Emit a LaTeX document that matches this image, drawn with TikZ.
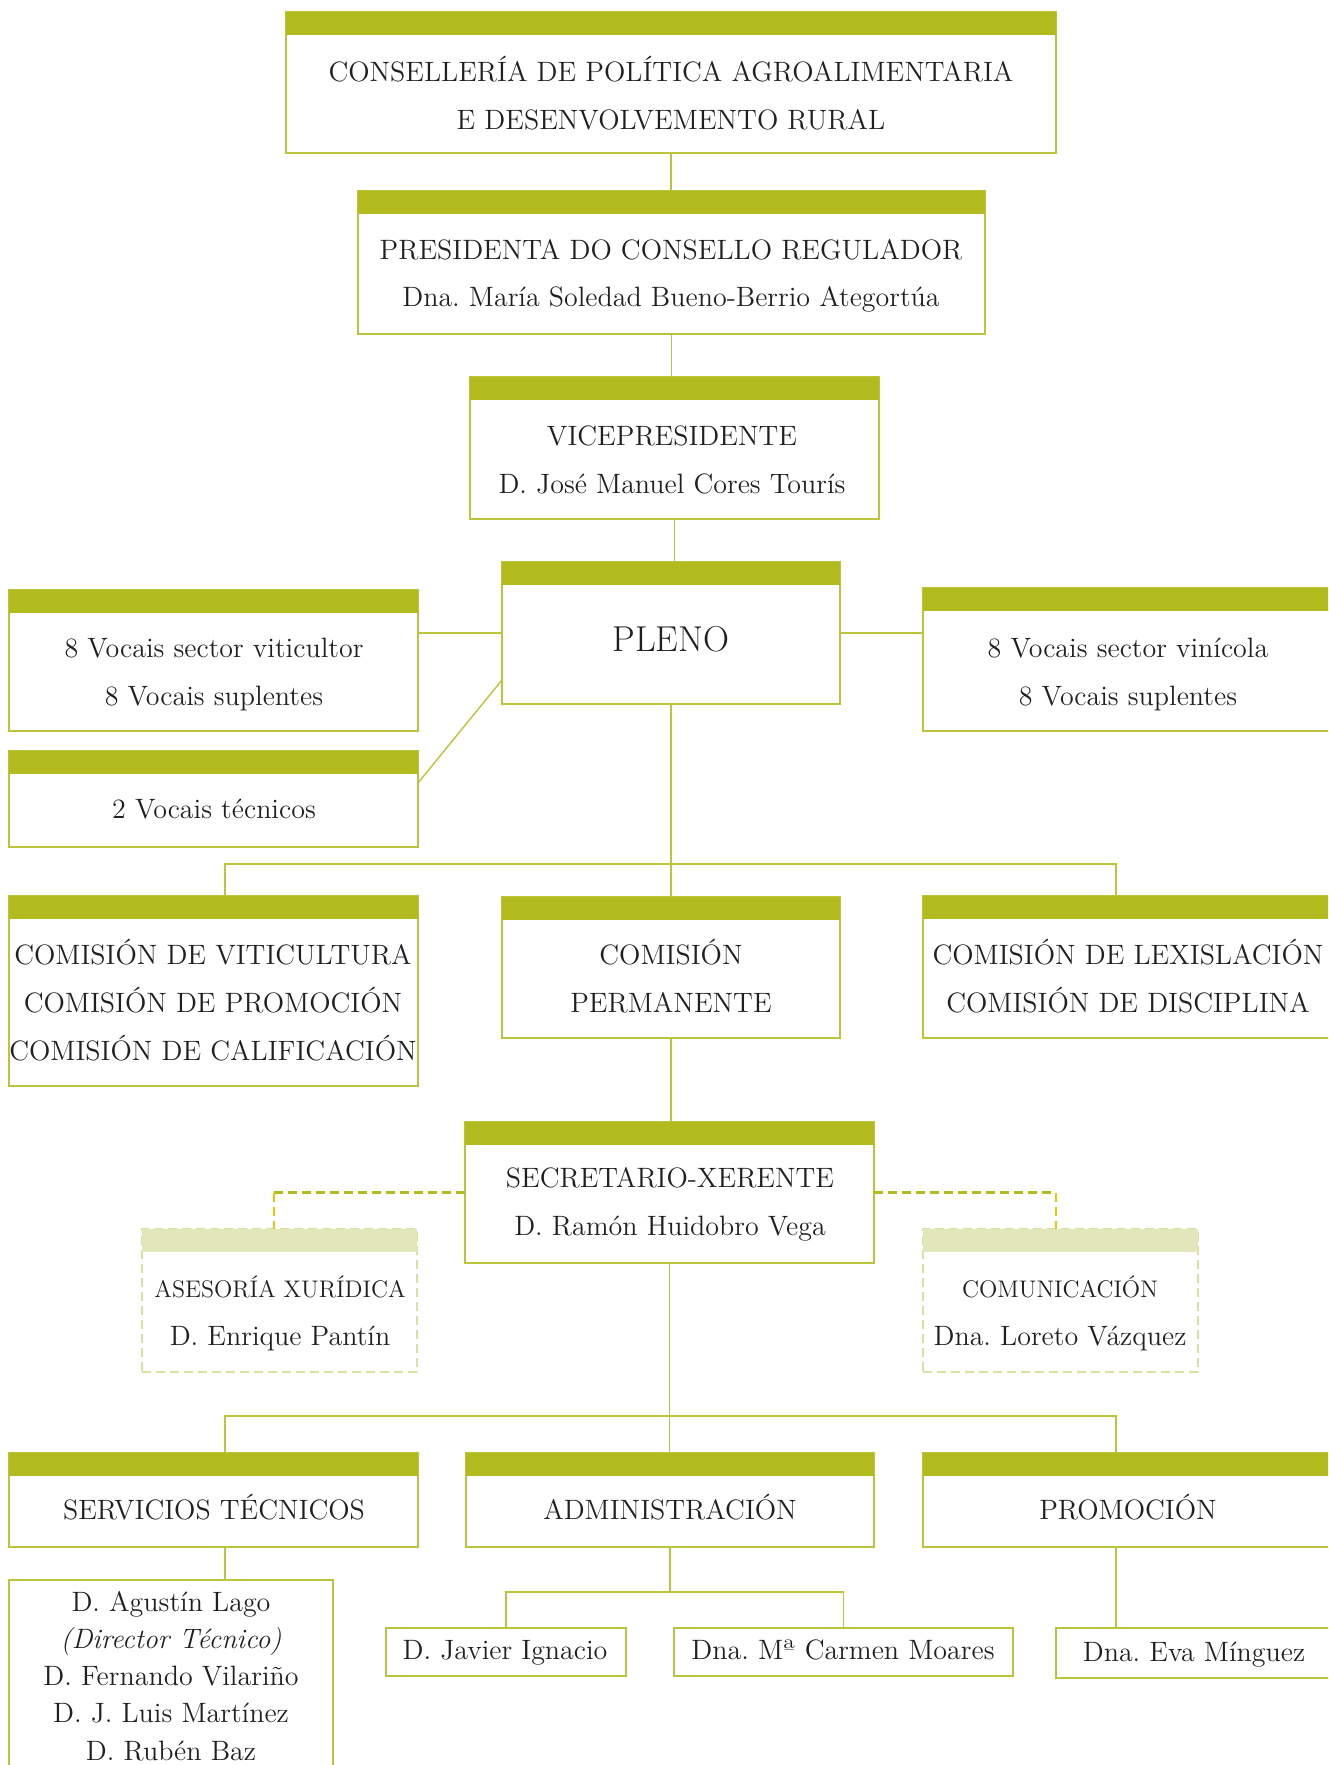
\documentclass[tikz,border=0pt]{standalone}
\usepackage{fontspec}
\usetikzlibrary{fit}
\frenchspacing
\definecolor{barc}{HTML}{B2BB1E}
\definecolor{linec}{HTML}{BCC43C}
\definecolor{lbarc}{HTML}{E1E6BB}
\definecolor{ldashc}{HTML}{DCE09E}
\definecolor{yelc}{HTML}{E9C800}
\definecolor{txtc}{HTML}{231F20}
\tikzset{
  solidframe/.style={draw=linec, line width=0.8pt, inner sep=0pt, outer sep=0pt},
  solidbar/.style={fill=barc},
  dashframe/.style={draw=ldashc, line width=1.1pt, dash pattern=on 4.5pt off 2.5pt, inner sep=0pt, outer sep=0pt},
  dashbar/.style={fill=lbarc},
  txt/.style={text=txtc, align=center, inner sep=0pt, anchor=base, font=\fontsize{14}{24}\selectfont\frenchspacing},
  conn/.style={draw=linec, line width=0.7pt},
  dconn/.style={draw=barc, line width=1.1pt, dash pattern=on 4.5pt off 2.5pt},
  dconny/.style={draw=yelc, line width=1.1pt, dash pattern=on 4.5pt off 2.5pt},
}
\newcommand\orgbox[6]{%
  \node[#6frame, fit={(#2,#3) (#4,#5)}] (#1) {};
  \fill[#6bar] (#2,#3) rectangle (#4,#3+23);
}
\newcommand\plainbox[5]{%
  \node[solidframe, fit={(#2,#3) (#4,#5)}] (#1) {};
}
\begin{document}
\begin{tikzpicture}[x=0.5pt,y=-0.5pt]
\useasboundingbox (0,0) rectangle (1328,1765);
\fill[white] (0,0) rectangle (1328,1765);
\clip (0,0) rectangle (1328,1765);

% boxes
\orgbox{b1}{286}{12}{1056}{153}{solid}
\orgbox{b2}{358}{191}{985}{334}{solid}
\orgbox{b3}{470}{377}{879}{519}{solid}
\orgbox{b4}{502}{562}{840}{704}{solid}
\orgbox{l1}{9}{590}{418}{731}{solid}
\orgbox{l2}{9}{751}{418}{847}{solid}
\orgbox{r1}{923}{588}{1333}{731}{solid}
\orgbox{c1}{9}{896}{418}{1086}{solid}
\orgbox{c2}{502}{897}{840}{1038}{solid}
\orgbox{c3}{923}{896}{1333}{1038}{solid}
\orgbox{s}{465}{1122}{874}{1263}{solid}
\orgbox{ax}{142}{1229}{417}{1372}{dash}
\orgbox{co}{923}{1229}{1198}{1372}{dash}
\orgbox{st}{9}{1453}{418}{1547}{solid}
\orgbox{ad}{466}{1453}{874}{1547}{solid}
\orgbox{pr}{923}{1453}{1333}{1547}{solid}
\plainbox{sf}{9}{1580}{333}{1800}
\plainbox{ji}{386}{1628}{626}{1676}
\plainbox{mc}{674}{1628}{1013}{1676}
\plainbox{ev}{1056}{1628}{1340}{1678}

% texts (anchor = baseline of last line)
\node[txt] (t1) at (671,130) {CONSELLERÍA DE POLÍTICA AGROALIMENTARIA\\E DESENVOLVEMENTO RURAL};
\node[txt] (t2) at (671,307) {PRESIDENTA DO CONSELLO REGULADOR\\Dna. María Soledad Bueno-Berrio Ategortúa};
\node[txt] (t3) at (672,493) {VICEPRESIDENTE\\D. José Manuel Cores Tourís};
\node[txt, font=\fontsize{18}{24}\selectfont] (t4) at (671,651) {PLENO};
\node[txt] (tl1) at (214,705) {8 Vocais sector viticultor\\8 Vocais suplentes};
\node[txt] (tl2) at (214,818) {2 Vocais técnicos};
\node[txt] (tr1) at (1128,705) {8 Vocais sector vinícola\\8 Vocais suplentes};
\node[txt] (tc1) at (213,1060) {COMISIÓN DE VITICULTURA\\COMISIÓN DE PROMOCIÓN\\COMISIÓN DE CALIFICACIÓN};
\node[txt] (tc2) at (671,1012) {COMISIÓN\\PERMANENTE};
\node[txt] (tc3) at (1128,1012) {COMISIÓN DE LEXISLACIÓN\\COMISIÓN DE DISCIPLINA};
\node[txt] (ts) at (670,1235) {SECRETARIO-XERENTE\\D. Ramón Huidobro Vega};
\node[txt] (tax) at (280,1345) {{\fontsize{12}{24}\selectfont ASESORÍA XURÍDICA}\\D. Enrique Pantín};
\node[txt] (tco) at (1060,1345) {{\fontsize{12}{24}\selectfont COMUNICACIÓN}\\Dna. Loreto Vázquez};
\node[txt] (tst) at (214,1519) {SERVICIOS TÉCNICOS};
\node[txt] (tad) at (670,1519) {ADMINISTRACIÓN};
\node[txt] (tpr) at (1128,1519) {PROMOCIÓN};
\node[txt, font=\fontsize{14}{18.6}\selectfont\frenchspacing] (tsf) at (171,1760) {D. Agustín Lago\\\itshape(Director Técnico)\\D. Fernando Vilariño\\D. J. Luis Martínez\\D. Rubén Baz};
\node[txt] (tji) at (505,1659) {D. Javier Ignacio};
\node[txt] (tmc) at (843,1659) {Dna. Mª Carmen Moares};
\node[txt] (tev) at (1194,1661) {Dna. Eva Mínguez};

% connectors
\draw[conn] (b1.south) -- (b1.south |- b2.north);
\draw[conn] (b2.south) -- (b2.south |- b3.north);
\draw[conn] (b3.south) -- (b3.south |- b4.north);
\draw[conn] (b4.west) -- (b4.west -| l1.east);
\draw[conn] (b4.east) -- (b4.east -| r1.west);
\draw[conn] (l2.east |- 0,783) -- (b4.west |- 0,680);
\draw[conn] (b4.south) -- (b4.south |- c2.north);
\coordinate (hl1) at (225,864);
\coordinate (hr1) at (1116,864);
\draw[conn] (hl1 |- c1.north) -- (hl1) -- (hr1) -- (hr1 |- c3.north);
\draw[conn] (c2.south) -- (c2.south |- s.north);
\coordinate (dl) at (274,1191);
\coordinate (dr) at (1056,1191);
\draw[dconn] (s.west) -- (s.west -| dl);
\draw[dconny] (s.west -| dl) -- (dl |- ax.north);
\draw[dconn] (s.east) -- (s.east -| dr);
\draw[dconny] (s.east -| dr) -- (dr |- co.north);
\draw[conn] (s.south) -- (s.south |- ad.north);
\coordinate (hl2) at (225,1416);
\coordinate (hr2) at (1116,1416);
\draw[conn] (hl2 |- st.north) -- (hl2) -- (hr2) -- (hr2 |- pr.north);
\draw[conn] (hl2 |- st.south) -- (hl2 |- sf.north);
\coordinate (am) at (672,1592);
\draw[conn] (ad.south) -- (ad.south |- am);
\draw[conn] (ji.north) |- (am) -| (mc.north);
\draw[conn] (hr2 |- pr.south) -- (hr2 |- ev.north);
\end{tikzpicture}
\end{document}
